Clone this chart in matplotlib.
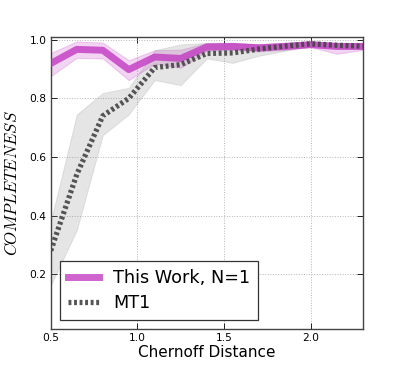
import numpy as np
import matplotlib
matplotlib.use("Agg")
import matplotlib.pyplot as plt

# chernoff distance grid
chernoff = [0.5, 0.65, 0.8, 0.95, 1.1, 1.25, 1.4, 1.55, 1.7, 1.85, 2.0, 2.15, 2.3]

# this work, N=1
work_mid = [0.919, 0.967, 0.964, 0.898, 0.941, 0.936, 0.975, 0.977, 0.972, 0.977, 0.983, 0.977, 0.977]
work_hi = [0.955, 0.994, 0.990, 0.930, 0.964, 0.966, 0.989, 0.990, 0.985, 0.988, 0.990, 0.988, 0.988]
work_lo = [0.876, 0.938, 0.936, 0.862, 0.919, 0.904, 0.962, 0.965, 0.960, 0.965, 0.975, 0.952, 0.965]

# MT1
mt1_mid = [0.280, 0.540, 0.740, 0.800, 0.905, 0.915, 0.953, 0.955, 0.968, 0.978, 0.986, 0.981, 0.978]
mt1_hi = [0.380, 0.745, 0.818, 0.836, 0.964, 0.984, 0.989, 0.986, 0.985, 0.990, 0.995, 0.990, 0.988]
mt1_lo = [0.162, 0.350, 0.674, 0.745, 0.862, 0.845, 0.936, 0.921, 0.945, 0.962, 0.978, 0.972, 0.968]

xticks = [0.5, 1.0, 1.5, 2.0]
yticks = [0.2, 0.4, 0.6, 0.8, 1.0]

plt.rcParams['mathtext.fontset'] = 'cm'

fig = plt.figure(figsize=(4.03, 3.67), dpi=100)
ax = fig.add_axes([0.126, 0.103, 0.774, 0.796])

pink = '#c030c0'
ax.fill_between(chernoff, work_lo, work_hi, facecolor=pink, alpha=0.2,
                edgecolor=pink, linewidth=0.8, zorder=2)
ax.fill_between(chernoff, mt1_lo, mt1_hi, facecolor='gray', alpha=0.2,
                edgecolor='#888888', linewidth=0.7, zorder=2)
ax.plot(chernoff, work_mid, color=pink, alpha=0.75, lw=5, zorder=3,
        label='This Work, N=1')
ax.plot(chernoff, mt1_mid, color='#444444', alpha=0.9, lw=3.8,
        linestyle=(0, (0.55, 0.5)), zorder=4, label='MT1')

ax.set_xlim(0.5, 2.3)
ax.set_ylim(0.012, 1.009)
ax.set_xticks(xticks)
ax.set_yticks(yticks)
ax.tick_params(direction='in', top=True, right=True, labelsize=7.7,
               length=4, width=0.6, pad=3)
ax.grid(True, color='#b5b5b5', linestyle=':', linewidth=0.7)
ax.set_axisbelow(True)
for sp in ax.spines.values():
    sp.set_color('#444444')
    sp.set_linewidth(1.0)

ax.set_xlabel('Chernoff Distance', fontsize=11, labelpad=1)
ax.set_ylabel(r'$COMPLETENESS$', fontsize=12, labelpad=6)

leg = ax.legend(loc='lower left', fontsize=12.7, fancybox=False,
                framealpha=1, edgecolor='#333333', handlelength=1.8,
                borderaxespad=0.5, borderpad=0.45, labelspacing=0.4)
leg.get_frame().set_linewidth(0.9)

fig.savefig('out.png', dpi=100)
